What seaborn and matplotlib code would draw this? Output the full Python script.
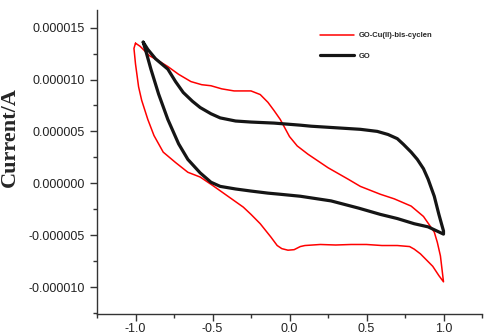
import numpy as np
import pandas as pd
import matplotlib
matplotlib.use('Agg')
import matplotlib.pyplot as plt
from matplotlib.ticker import MultipleLocator, FuncFormatter
import seaborn as sns

# GO-Cu(II)-bis-cyclen loop (potential in V, current in uA)
cu_potential = [-1.00, -0.97, -0.91, -0.85, -0.79, -0.72, -0.64, -0.57, -0.51, -0.44,
                -0.36, -0.30, -0.25, -0.19, -0.14, -0.10, -0.06, 0.00, 0.05, 0.12,
                0.25, 0.38, 0.46, 0.59, 0.68, 0.79, 0.87, 0.94, 0.96, 0.98, 1.00,
                0.97, 0.93, 0.85, 0.81, 0.78, 0.70, 0.60, 0.50, 0.40, 0.30, 0.20,
                0.10, 0.07, 0.03, -0.01, -0.05, -0.08, -0.12, -0.19, -0.25, -0.30,
                -0.40, -0.50, -0.58, -0.66, -0.74, -0.82, -0.88, -0.92, -0.96, -0.98,
                -1.00, -1.01, -1.00]
cu_current = [13.5, 13.2, 12.3, 11.8, 11.25, 10.5, 9.8, 9.5, 9.4, 9.1,
              8.9, 8.9, 8.9, 8.55, 7.8, 7.0, 6.15, 4.5, 3.6, 2.8,
              1.5, 0.4, -0.3, -1.06, -1.5, -2.2, -3.2, -4.7, -5.7, -7.0, -9.5,
              -8.9, -8.0, -6.8, -6.35, -6.1, -6.0, -6.0, -5.9, -5.9, -5.95, -5.9,
              -6.0, -6.1, -6.4, -6.45, -6.3, -6.0, -5.2, -3.9, -3.0, -2.3,
              -1.25, -0.2, 0.6, 1.06, 2.0, 3.0, 4.6, 6.15, 8.0, 9.3,
              11.5, 13.0, 13.5]

# GO loop
go_potential = [-0.95, -0.92, -0.87, -0.79, -0.74, -0.69, -0.63, -0.58, -0.51, -0.45,
                -0.35, -0.25, -0.10, 0.07, 0.14, 0.30, 0.46, 0.57, 0.64, 0.70,
                0.74, 0.79, 0.83, 0.87, 0.90, 0.94, 0.97, 1.00,
                1.00, 0.90, 0.81, 0.70, 0.59, 0.45, 0.27, 0.07, -0.06, -0.14,
                -0.25, -0.35, -0.45, -0.51, -0.58, -0.66, -0.72, -0.79, -0.85, -0.90,
                -0.93, -0.95]
go_current = [13.6, 12.9, 12.0, 11.0, 9.8, 8.75, 7.9, 7.3, 6.7, 6.3,
              6.0, 5.9, 5.8, 5.6, 5.5, 5.35, 5.2, 5.0, 4.7, 4.3,
              3.75, 3.0, 2.3, 1.4, 0.4, -1.25, -3.0, -4.6,
              -4.9, -4.2, -3.9, -3.4, -3.0, -2.4, -1.7, -1.25, -1.06, -0.95,
              -0.75, -0.55, -0.3, 0.1, 1.0, 2.3, 3.8, 6.15, 8.6, 11.0,
              12.6, 13.6]

cu = pd.DataFrame({'E': cu_potential, 'I': np.array(cu_current) * 1e-6})
go = pd.DataFrame({'E': go_potential, 'I': np.array(go_current) * 1e-6})

sns.set_style('ticks')
plt.rcParams['font.family'] = ['Liberation Sans', 'DejaVu Sans']

fig = plt.figure(figsize=(4.84, 3.36), dpi=100)
ax = fig.add_axes([97 / 484, 22 / 336, 385 / 484, 304 / 336])

sns.lineplot(data=cu, x='E', y='I', sort=False, estimator=None, ax=ax,
             color='#ff0000', linewidth=1.1, label='GO-Cu(II)-bis-cyclen')
sns.lineplot(data=go, x='E', y='I', sort=False, estimator=None, ax=ax,
             color='#151515', linewidth=2.3, label='GO')

ax.set_xlim(-1.25, 1.25)
ax.set_ylim(-1.26e-5, 1.67e-5)
ax.xaxis.set_major_locator(MultipleLocator(0.5))
ax.xaxis.set_minor_locator(MultipleLocator(0.25))
ax.yaxis.set_major_locator(MultipleLocator(5e-6))
ax.yaxis.set_minor_locator(MultipleLocator(2.5e-6))
ax.xaxis.set_major_formatter(FuncFormatter(lambda v, p: f'{0.0 if abs(v) < 1e-9 else v:.1f}'))
ax.yaxis.set_major_formatter(FuncFormatter(lambda v, p: f'{0.0 if abs(v) < 1e-12 else v:.6f}'))
ax.tick_params(which='major', direction='out', length=5, width=1, colors='#333333',
               labelsize=9, labelcolor='#222222')
ax.tick_params(which='minor', direction='out', length=3, width=1, colors='#333333')
ax.tick_params(axis='x', which='major', pad=1.5)
ax.set_xlabel('')
ax.set_ylabel('')
for s in ['top', 'right']:
    ax.spines[s].set_visible(False)
for s in ['left', 'bottom']:
    ax.spines[s].set_color('#333333')
    ax.spines[s].set_linewidth(1)

fig.text(10 / 484, 1 - 137 / 336, 'Current/A', rotation=90, fontsize=16,
         fontweight='bold', family='Liberation Serif', ha='center', va='center')

leg = ax.legend(loc='upper left', bbox_to_anchor=(314 / 484, 1 - 26 / 336),
                bbox_transform=fig.transFigure, frameon=False,
                prop={'size': 5.5, 'weight': 'bold'}, handlelength=4.5,
                handletextpad=0.5, labelspacing=1.7, borderpad=0.3)

fig.savefig('out.png', dpi=100)
